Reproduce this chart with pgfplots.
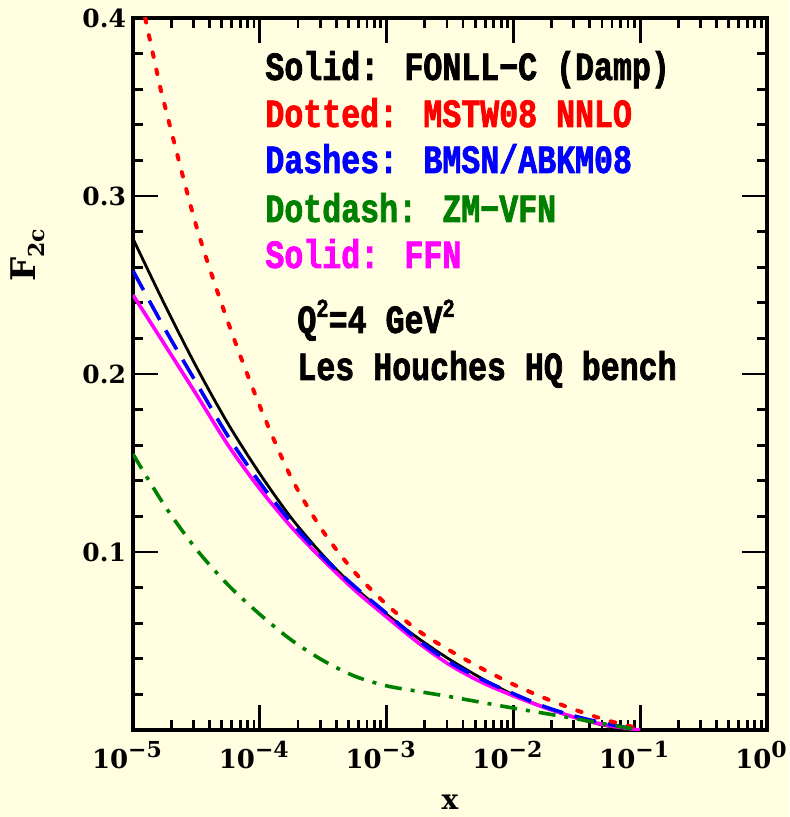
\documentclass[border=0pt]{standalone}
\usepackage{fontspec}
\usepackage{pgfplots}
\pgfplotsset{compat=1.18}
\newfontfamily\monob[FakeStretch=0.79,FakeBold=1.8]{Liberation Mono}
\newfontfamily\dserif{DejaVu Serif}
\definecolor{bg}{RGB}{255,254,224}
\definecolor{dgreen}{RGB}{0,128,0}
\definecolor{mag}{RGB}{255,0,255}
\newcommand{\dexp}[1]{10\raisebox{0.42em}{\fontsize{11}{11}\selectfont #1}}
\begin{document}
\begin{tikzpicture}
\path[fill=bg, use as bounding box] (-66.5pt,-43.5pt) rectangle (328pt,365pt);
\begin{axis}[
  at={(0pt,0pt)}, anchor=south west,
  scale only axis, width=317pt, height=356pt,
  clip mode=individual,
  xmode=log, xmin=1e-5, xmax=1, ymin=0, ymax=0.4,
  axis line style={line width=1.8pt},
  every tick/.style={line width=1.4pt, black},
  major tick length=12.5pt, minor tick length=5pt,
  xtick={1e-5,1e-4,1e-3,1e-2,1e-1,1},
  xticklabels={\dexp{−5},\dexp{−4},\dexp{−3},\dexp{−2},\dexp{−1},\dexp{0}},
  minor xtick={2e-5,3e-5,4e-5,5e-5,6e-5,7e-5,8e-5,9e-5,
    2e-4,3e-4,4e-4,5e-4,6e-4,7e-4,8e-4,9e-4,
    2e-3,3e-3,4e-3,5e-3,6e-3,7e-3,8e-3,9e-3,
    2e-2,3e-2,4e-2,5e-2,6e-2,7e-2,8e-2,9e-2,
    0.2,0.3,0.4,0.5,0.6,0.7,0.8,0.9},
  ytick={0,0.1,0.2,0.3,0.4},
  yticklabels={,0.1,0.2,0.3,0.4},
  minor ytick={0.02,0.04,0.06,0.08,0.12,0.14,0.16,0.18,0.22,0.24,0.26,0.28,0.32,0.34,0.36,0.38},
  xticklabel style={font=\fontsize{13}{13}\dserif\bfseries, xshift=-3pt, yshift=-2pt},
  yticklabel style={font=\fontsize{12.5}{12.5}\dserif\bfseries},
]
% FONLL-C (black solid)
\addplot[black, line width=1.4pt, smooth] coordinates {
(1e-5,0.276) (1.778e-5,0.239) (3.162e-5,0.204) (5.623e-5,0.172) (1e-4,0.144)
(1.778e-4,0.119) (3.162e-4,0.098) (5.623e-4,0.080) (1e-3,0.065) (1.778e-3,0.0515)
(3.162e-3,0.0395) (5.623e-3,0.029) (0.01,0.0198) (0.01778,0.0126) (0.03162,0.0066)
(0.05623,0.0021) (0.1,0.0)};
% FFN (magenta solid)
\addplot[mag, line width=1.8pt, smooth] coordinates {
(1e-5,0.2444) (1.778e-5,0.2165) (3.162e-5,0.1885) (5.623e-5,0.160) (1e-4,0.1355)
(1.778e-4,0.114) (3.162e-4,0.0955) (5.623e-4,0.0785) (1e-3,0.0635) (1.778e-3,0.049)
(3.162e-3,0.0365) (5.623e-3,0.0268) (0.01,0.0192) (0.01778,0.0125) (0.03162,0.0068)
(0.05623,0.0025) (0.1,0.0)};
% BMSN/ABKM08 (blue dashes)
\addplot[blue, line width=1.8pt, smooth, dash pattern=on 11pt off 6pt] coordinates {
(1e-5,0.258) (1.778e-5,0.2255) (3.162e-5,0.195) (5.623e-5,0.165) (1e-4,0.139)
(1.778e-4,0.1165) (3.162e-4,0.097) (5.623e-4,0.0805) (1e-3,0.0655) (1.778e-3,0.0505)
(3.162e-3,0.038) (5.623e-3,0.0285) (0.01,0.0204) (0.01778,0.013) (0.03162,0.0075)
(0.05623,0.0033) (0.1,0.0)};
% MSTW08 NNLO (red dotted)
\addplot[red, line width=2pt, smooth, line cap=round, dash pattern=on 2.3pt off 6.5pt] coordinates {
(1.247e-5,0.400) (1.585e-5,0.366) (1.778e-5,0.351) (3.162e-5,0.283) (5.623e-5,0.229)
(1e-4,0.182) (1.778e-4,0.1415) (3.162e-4,0.1115) (5.623e-4,0.0885) (1e-3,0.0705)
(1.778e-3,0.0558) (3.162e-3,0.0446) (5.623e-3,0.0346) (0.01,0.0256) (0.01778,0.0178)
(0.03162,0.011) (0.05623,0.0052) (0.1,0.0008)};
% ZM-VFN (green dotdash)
\addplot[dgreen, line width=1.8pt, smooth, dash pattern=on 8.5pt off 4.5pt on 2pt off 4.5pt] coordinates {
(1e-5,0.155) (1.778e-5,0.126) (3.162e-5,0.1015) (5.623e-5,0.0815) (1e-4,0.065)
(1.778e-4,0.0505) (3.162e-4,0.039) (5.623e-4,0.0302) (1e-3,0.0248) (1.778e-3,0.0217)
(3.162e-3,0.0187) (5.623e-3,0.0155) (0.01,0.0123) (0.01778,0.0093) (0.03162,0.0062)
(0.05623,0.0030) (0.1,0.0)};
\node[anchor=base west, font=\fontsize{20}{20}\monob\bfseries, text=black, inner sep=0pt] at (axis description cs:0.2082,0.9129) {Solid: FONLL−C (Damp)};
\node[anchor=base west, font=\fontsize{20}{20}\monob\bfseries, text=red, inner sep=0pt] at (axis description cs:0.2082,0.8469) {Dotted: MSTW08 NNLO};
\node[anchor=base west, font=\fontsize{20}{20}\monob\bfseries, text=blue, inner sep=0pt] at (axis description cs:0.2082,0.7823) {Dashes: BMSN/ABKM08};
\node[anchor=base west, font=\fontsize{20}{20}\monob\bfseries, text=dgreen, inner sep=0pt] at (axis description cs:0.2082,0.7135) {Dotdash: ZM−VFN};
\node[anchor=base west, font=\fontsize{20}{20}\monob\bfseries, text=mag, inner sep=0pt] at (axis description cs:0.2082,0.6489) {Solid: FFN};
\node[anchor=base west, font=\fontsize{20}{20}\monob\bfseries, text=black, inner sep=0pt] at (axis description cs:0.2587,0.5576) {Q\raisebox{0.4em}{\fontsize{13}{13}\selectfont 2}=4 GeV\raisebox{0.4em}{\fontsize{13}{13}\selectfont 2}};
\node[anchor=base west, font=\fontsize{20}{20}\monob\bfseries, text=black, inner sep=0pt] at (axis description cs:0.2587,0.4916) {Les Houches HQ bench};
\node[rotate=90, font=\fontsize{17}{17}\dserif\bfseries] at (axis description cs:-0.1656,0.667) {F\raisebox{-0.25em}{\fontsize{11}{11}\selectfont 2c}};
\node[font=\fontsize{14}{14}\dserif\bfseries] at (axis description cs:0.5,-0.101) {x};
\end{axis}
\end{tikzpicture}
\end{document}
